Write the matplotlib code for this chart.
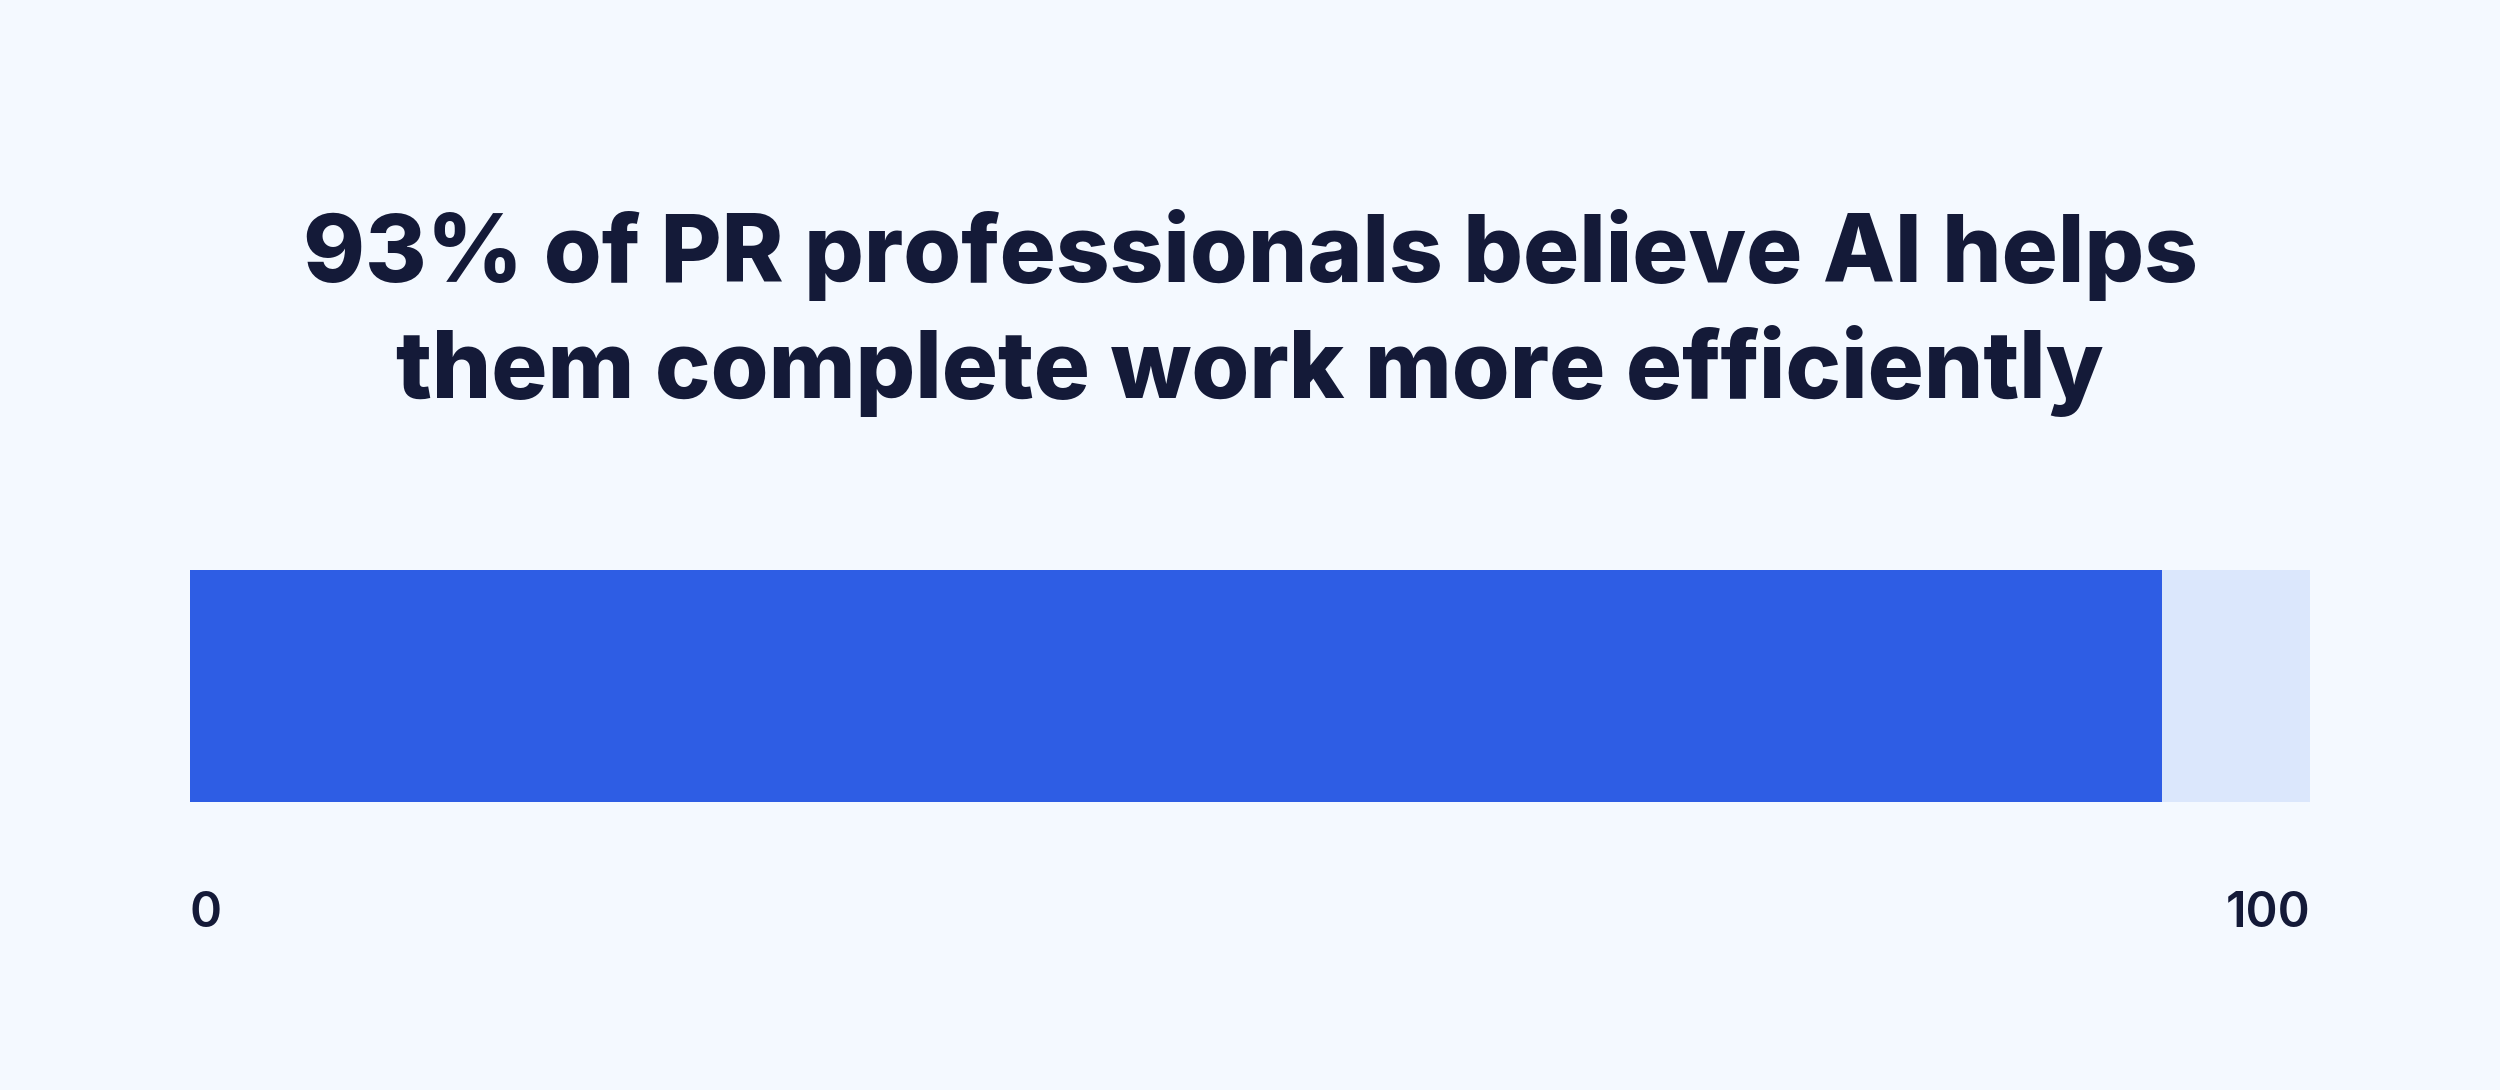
import matplotlib
matplotlib.use('Agg')
import matplotlib.pyplot as plt

title_lines = ['93% of PR professionals believe AI helps',
               'them complete work more efficiently']
share = [93]
total = [100]
tick_values = [0, 100]
tick_labels = ['0', '100']

BG = '#f4f9ff'
BLUE = '#2e5de4'
LIGHT = '#dbe7fc'
INK = '#141a38'

plt.rcParams['font.family'] = ['Inter', 'DejaVu Sans']

fig = plt.figure(figsize=(25, 10.9), dpi=100, facecolor=BG)
ax = fig.add_axes([190 / 2500, 1 - 802 / 1090, 2120 / 2500, 232 / 1090])
ax.set_facecolor(BG)

ax.barh([0], total, height=1, color=LIGHT, linewidth=0)
ax.barh([0], share, height=1, color=BLUE, linewidth=0)
ax.set_xlim(0, 100)
ax.set_ylim(-0.5, 0.5)

for s in ax.spines.values():
    s.set_visible(False)
ax.set_yticks([])
ax.set_xticks(tick_values)
ax.set_xticklabels(tick_labels, fontsize=35, color=INK, fontweight='semibold')
ax.tick_params(axis='x', length=0, pad=64)
labels = ax.get_xticklabels()
labels[0].set_horizontalalignment('left')
labels[-1].set_horizontalalignment('right')

fig.text(0.5, 1 - 313 / 1090, '\n'.join(title_lines), ha='center', va='center',
         fontsize=67.5, fontweight='heavy', color=INK, linespacing=1.33)

fig.savefig('out.png', dpi=100, facecolor=BG)
